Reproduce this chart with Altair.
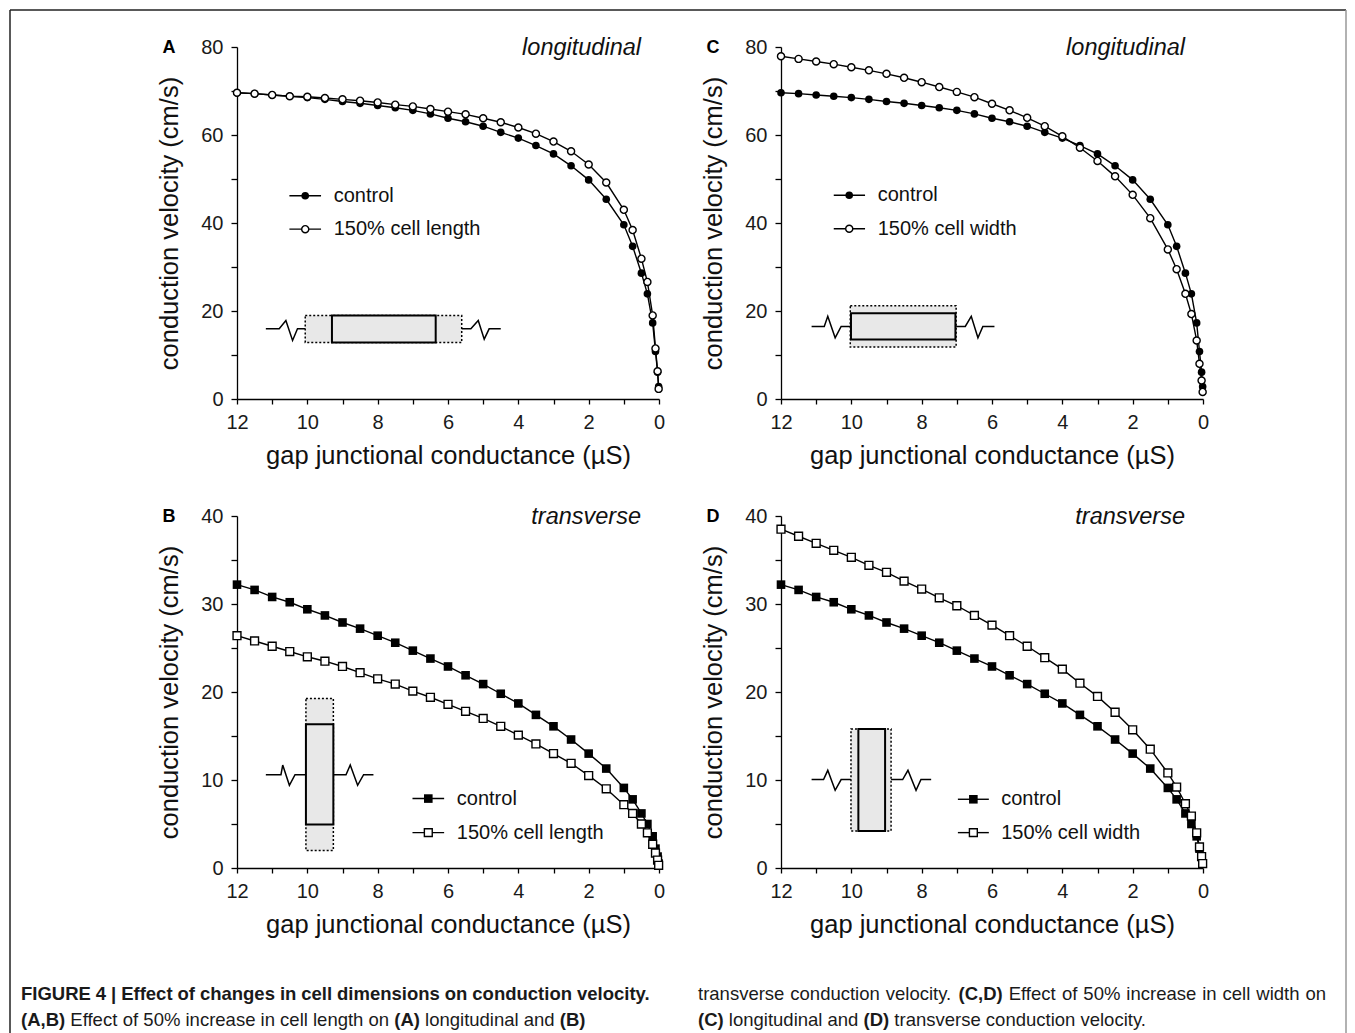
import re
import altair as alt
import pandas as pd

# ---------------- data ----------------
g_vals = [12, 11.5, 11, 10.5, 10, 9.5, 9, 8.5, 8, 7.5, 7, 6.5, 6, 5.5, 5, 4.5, 4, 3.5,
          3, 2.5, 2, 1.5, 1, 0.75, 0.5, 0.33, 0.18, 0.1, 0.04, 0.01]

long_control = [69.6, 69.4, 69.1, 68.8, 68.5, 68.1, 67.6, 67.2, 66.7, 66.2, 65.6, 64.8, 63.8, 63.0,
                62.0, 60.6, 59.3, 57.6, 55.7, 53.0, 49.8, 45.4, 39.6, 34.7, 28.6, 23.9, 17.3, 10.8, 6.1, 2.8]
long_len150 = [69.6, 69.4, 69.1, 68.8, 68.7, 68.4, 68.1, 67.8, 67.4, 66.9, 66.5, 65.9, 65.3, 64.7,
               63.8, 62.9, 61.7, 60.3, 58.5, 56.3, 53.3, 49.2, 43.0, 38.4, 31.9, 26.6, 19.0, 11.5, 6.3, 2.3]
long_wid150 = [77.9, 77.3, 76.7, 76.1, 75.4, 74.7, 73.9, 73.0, 72.0, 70.9, 69.8, 68.6, 67.1, 65.6,
               63.9, 62.0, 59.7, 57.1, 54.1, 50.6, 46.4, 41.1, 34.0, 29.5, 23.9, 19.3, 13.3, 8.0, 4.2, 1.6]
trans_control = [32.2, 31.6, 30.8, 30.2, 29.4, 28.7, 27.9, 27.2, 26.4, 25.6, 24.7, 23.8, 22.9, 21.9,
                 20.9, 19.8, 18.7, 17.4, 16.1, 14.6, 13.0, 11.3, 9.1, 7.8, 6.2, 5.0, 3.6, 2.2, 1.3, 0.5]
trans_len150 = [26.4, 25.8, 25.2, 24.6, 24.0, 23.5, 22.9, 22.2, 21.5, 20.9, 20.1, 19.4, 18.6, 17.8,
                17.0, 16.1, 15.1, 14.1, 13.0, 11.9, 10.5, 9.0, 7.2, 6.2, 5.0, 4.0, 2.7, 1.7, 0.9, 0.3]
trans_wid150 = [38.5, 37.7, 36.9, 36.1, 35.3, 34.4, 33.6, 32.6, 31.7, 30.7, 29.8, 28.7, 27.6, 26.4,
                25.2, 23.9, 22.6, 21.0, 19.5, 17.7, 15.7, 13.5, 10.8, 9.2, 7.3, 5.9, 4.0, 2.4, 1.3, 0.5]

x_title = "gap junctional conductance (\u00b5S)"
y_title = "conduction velocity (cm/s)"

caption_left = [
    [("FIGURE 4 | Effect of changes in cell dimensions on conduction velocity.", True)],
    [("(A,B)", True), (" Effect of 50% increase in cell length on ", False), ("(A)", True),
     (" longitudinal and ", False), ("(B)", True)],
]
caption_right = [
    [("transverse conduction velocity. ", False), ("(C,D)", True),
     (" Effect of 50% increase in cell width on", False)],
    [("(C)", True), (" longitudinal and ", False), ("(D)", True),
     (" transverse conduction velocity.", False)],
]

# ---------------- styling / layout ----------------
FONT = "Liberation Sans"
W, H = 422, 352
ONE = alt.Data(values=[{"k": 1}])

legend_pos = {
    "A": dict(x0=10.51, x1=9.61, xm=10.06, xt=9.25, y=[46.2, 38.6]),
    "C": dict(x0=10.50, x1=9.61, xm=10.06, xt=9.25, y=[46.3, 38.7]),
    "B": dict(x0=7.01, x1=6.11, xm=6.56, xt=5.75, y=[7.89, 4.02]),
    "D": dict(x0=6.97, x1=6.09, xm=6.53, xt=5.74, y=[7.81, 4.02]),
}
schem = {
    "A": dict(outer=(10.06, 5.61, 12.85, 19.0), inner=(9.30, 6.35, 12.85, 19.0),
              zl=[(11.18, 15.95), (10.80, 15.95), (10.61, 17.85), (10.42, 13.3), (10.28, 15.95), (10.06, 15.95)],
              zr=[(5.61, 15.95), (5.35, 15.95), (5.14, 17.85), (4.97, 13.6), (4.83, 15.95), (4.50, 15.95)]),
    "C": dict(outer=(10.03, 7.02, 11.8, 21.2), inner=(10.01, 7.04, 13.5, 19.5),
              zl=[(11.13, 16.5), (10.77, 16.5), (10.67, 18.8), (10.46, 13.9), (10.29, 16.5), (10.03, 16.5)],
              zr=[(7.02, 16.5), (6.76, 16.5), (6.59, 18.8), (6.40, 13.9), (6.26, 16.5), (5.93, 16.5)]),
    "B": dict(outer=(10.04, 9.26, 2.0, 19.26), inner=(10.04, 9.26, 4.93, 16.34),
              zl=[(11.18, 10.6), (10.75, 10.6), (10.70, 11.7), (10.51, 9.4), (10.35, 10.6), (10.04, 10.6)],
              zr=[(9.26, 10.6), (8.90, 10.6), (8.78, 11.7), (8.57, 9.4), (8.40, 10.6), (8.12, 10.6)]),
    "D": dict(outer=(10.01, 8.87, 4.2, 15.8), inner=(9.80, 9.04, 4.2, 15.8),
              zl=[(11.13, 10.05), (10.79, 10.05), (10.67, 11.1), (10.46, 8.83), (10.29, 10.05), (10.01, 10.05)],
              zr=[(8.87, 10.05), (8.54, 10.05), (8.39, 11.1), (8.16, 8.83), (8.02, 10.05), (7.73, 10.05)]),
}


def panel(letter, title, ymax, ctrl, other, other_label, shape, size_f, size_o):
    minor = ymax // 8
    major = ymax // 4
    xscale = alt.Scale(domain=[0, 12], reverse=True, nice=False, zero=False)
    yscale = alt.Scale(domain=[0, ymax], nice=False, zero=True)
    xaxis = alt.Axis(values=list(range(0, 13)),
                     labelExpr="datum.value % 2 === 0 ? datum.label : ''",
                     tickSize=5, labelPadding=8, titlePadding=11, labelFlush=False,
                     labelOverlap=False, labelBound=False, grid=False)
    yaxis = alt.Axis(values=list(range(0, ymax + 1, minor)),
                     labelExpr=f"datum.value % {major} === 0 ? datum.label : ''",
                     tickSize=6, labelPadding=8, titlePadding=18, labelFlush=False,
                     labelOverlap=False, labelBound=False, grid=False)

    def X(f):
        return alt.X(f"{f}:Q", scale=xscale, axis=xaxis, title=x_title)

    def Y(f):
        return alt.Y(f"{f}:Q", scale=yscale, axis=yaxis, title=y_title)

    n = len(g_vals)
    df = pd.DataFrame({"g": g_vals * 2, "v": list(ctrl) + list(other),
                       "s": ["control"] * n + [other_label] * n, "o": list(range(n)) * 2})
    dc = df[df.s == "control"]
    do = df[df.s != "control"]

    lines = alt.Chart(df).mark_line(color="black", strokeWidth=1.4).encode(
        x=X("g"), y=Y("v"), detail="s:N", order="o:Q")
    pts_c = alt.Chart(dc).mark_point(shape=shape, filled=True, color="black", size=size_f,
                                     opacity=1).encode(x=X("g"), y=Y("v"))
    pts_o = alt.Chart(do).mark_point(shape=shape, filled=True, fill="white", stroke="black",
                                     strokeWidth=1.4, size=size_o, opacity=1).encode(x=X("g"), y=Y("v"))

    sc = schem[letter]
    ox1, ox2, oy1, oy2 = sc["outer"]
    ix1, ix2, iy1, iy2 = sc["inner"]
    outer = alt.Chart(pd.DataFrame({"g": [ox1], "g2": [ox2], "v": [oy1], "v2": [oy2]})).mark_rect(
        fill="#e8e8e8", stroke="black", strokeWidth=1.5, strokeDash=[2, 2]).encode(
        x=X("g"), x2="g2:Q", y=Y("v"), y2="v2:Q")
    inner = alt.Chart(pd.DataFrame({"g": [ix1], "g2": [ix2], "v": [iy1], "v2": [iy2]})).mark_rect(
        fill="#e8e8e8", stroke="black", strokeWidth=2).encode(
        x=X("g"), x2="g2:Q", y=Y("v"), y2="v2:Q")
    zz = pd.DataFrame({"g": [p[0] for p in sc["zl"]] + [p[0] for p in sc["zr"]],
                       "v": [p[1] for p in sc["zl"]] + [p[1] for p in sc["zr"]],
                       "s": ["l"] * len(sc["zl"]) + ["r"] * len(sc["zr"]),
                       "o": list(range(len(sc["zl"]))) + list(range(len(sc["zr"])))})
    zig = alt.Chart(zz).mark_line(color="black", strokeWidth=1.5).encode(
        x=X("g"), y=Y("v"), detail="s:N", order="o:Q")

    lp = legend_pos[letter]
    ldf = pd.DataFrame({"g": [lp["x0"]] * 2, "g2": [lp["x1"]] * 2, "gm": [lp["xm"]] * 2,
                        "gt": [lp["xt"]] * 2, "v": lp["y"], "lab": ["control", other_label],
                        "filled": [True, False]})
    lrule = alt.Chart(ldf).mark_rule(color="black", strokeWidth=1.4).encode(
        x=X("g"), x2="g2:Q", y=Y("v"))
    lm_f = alt.Chart(ldf[ldf.filled]).mark_point(shape=shape, filled=True, color="black",
                                                 size=size_f, opacity=1).encode(x=X("gm"), y=Y("v"))
    lm_o = alt.Chart(ldf[~ldf.filled]).mark_point(shape=shape, filled=True, fill="white",
                                                  stroke="black", strokeWidth=1.4, size=size_o,
                                                  opacity=1).encode(x=X("gm"), y=Y("v"))
    ltxt = alt.Chart(ldf).mark_text(align="left", baseline="middle", font=FONT, fontSize=20,
                                    color="#111111").encode(x=X("gt"), y=Y("v"), text="lab:N")

    let = alt.Chart(ONE).mark_text(font=FONT, fontSize=18, fontWeight="bold", color="black",
                                   align="center", baseline="middle").encode(
        x=alt.value(-68), y=alt.value(1), text=alt.value(letter))
    ttl = alt.Chart(ONE).mark_text(font=FONT, fontSize=23.5, fontStyle="italic", color="#111111",
                                   align="right", baseline="middle").encode(
        x=alt.value(404), y=alt.value(1), text=alt.value(title))

    return alt.layer(lines, pts_c, pts_o, outer, inner, zig, lrule, lm_f, lm_o, ltxt, let, ttl).properties(
        width=W, height=H)


pA = panel("A", "longitudinal", 80, long_control, long_len150, "150% cell length", "circle", 58, 50)
pC = panel("C", "longitudinal", 80, long_control, long_wid150, "150% cell width", "circle", 58, 50)
pB = panel("B", "transverse", 40, trans_control, trans_len150, "150% cell length", "square", 74, 62)
pD = panel("D", "transverse", 40, trans_control, trans_wid150, "150% cell width", "square", 74, 62)

# ---------------- caption + frame ----------------
REG = {' ': 278, '(': 333, ')': 333, ',': 278, '.': 278, '%': 889, '|': 260,
       'A': 667, 'B': 667, 'C': 722, 'D': 722, 'E': 667, 'F': 611, 'G': 778, 'I': 278, 'R': 722, 'U': 722,
       'a': 556, 'c': 500, 'd': 556, 'e': 556, 'f': 278, 'g': 556, 'h': 556, 'i': 222, 'l': 222,
       'm': 833, 'n': 556, 'o': 556, 'r': 333, 's': 500, 't': 278, 'u': 556, 'v': 500, 'w': 722, 'y': 500}
BLD = {' ': 278, '(': 333, ')': 333, ',': 278, '.': 278, '%': 889, '|': 280,
       'A': 722, 'B': 722, 'C': 722, 'D': 722, 'E': 667, 'F': 611, 'G': 778, 'I': 278, 'R': 722, 'U': 722,
       'a': 556, 'c': 556, 'd': 611, 'e': 556, 'f': 333, 'g': 611, 'h': 611, 'i': 278, 'l': 278,
       'm': 889, 'n': 611, 'o': 611, 'r': 389, 's': 556, 't': 333, 'u': 611, 'v': 556, 'w': 778, 'y': 556}
CAP_FS = 18.5


def text_w(s, bold):
    tab = BLD if bold else REG
    return sum(tab.get(ch, 556) for ch in s) * CAP_FS / 1000.0


def layout_line(segs, x0, y, target=None):
    n_sp = sum(s.count(" ") for s, _ in segs)
    nat = sum(text_w(s, b) for s, b in segs)
    extra = (target - nat) / n_sp if (target and n_sp) else 0.0
    x = x0
    rows = []
    for s, b in segs:
        for tok in re.split(r"( )", s):
            if tok == "":
                continue
            if tok == " ":
                x += text_w(" ", b) + extra
            else:
                rows.append({"w": tok, "px": x, "py": y, "bold": b})
                x += text_w(tok, b)
    return rows


# caption cell origin sits at page (~236, 985)
cap_rows = []
cap_rows += layout_line(caption_left[0], -216, 9, target=630)
cap_rows += layout_line(caption_left[1], -216, 35)
cap_rows += layout_line(caption_right[0], 461, 9, target=628)
cap_rows += layout_line(caption_right[1], 461, 35)
cap_df = pd.DataFrame(cap_rows)


def cap_text(bold):
    return alt.Chart(cap_df[cap_df.bold == bold]).mark_text(
        font=FONT, fontSize=CAP_FS, fontWeight="bold" if bold else "normal",
        color="#1a1a1a", align="left", baseline="middle").encode(
        x=alt.X("px:Q", scale=None, axis=None), y=alt.Y("py:Q", scale=None, axis=None), text="w:N")


# frame: right edge kept inside the 1339px body so the page is not scaled
frame = [
    alt.Chart(ONE).mark_rule(color="#222222", strokeWidth=1.5).encode(
        x=alt.value(-227), x2=alt.value(1109), y=alt.value(-975)),
    alt.Chart(ONE).mark_rule(color="#222222", strokeWidth=1.5).encode(
        x=alt.value(-227), y=alt.value(-975), y2=alt.value(48)),
    alt.Chart(ONE).mark_rule(color="#999999", strokeWidth=1.5).encode(
        x=alt.value(1109), y=alt.value(-975), y2=alt.value(48)),
]
caption = alt.layer(*frame, cap_text(True), cap_text(False)).properties(width=W, height=30)

chart = alt.concat(pA, pC, pB, pD, caption, columns=2,
                   spacing={"row": 117, "column": 122}, bounds="flush",
                   padding={"left": 1, "top": 1, "right": 0, "bottom": 0}
                   ).configure_view(stroke=None).configure_axis(
    domainColor="black", domainWidth=1.3, tickColor="black", tickWidth=1.3,
    labelFont=FONT, labelFontSize=20, labelColor="#1a1a1a",
    titleFont=FONT, titleFontSize=25.5, titleFontWeight="normal", titleColor="#111111", grid=False
)

chart.save("out.html", embed_options={"renderer": "svg", "actions": False})
